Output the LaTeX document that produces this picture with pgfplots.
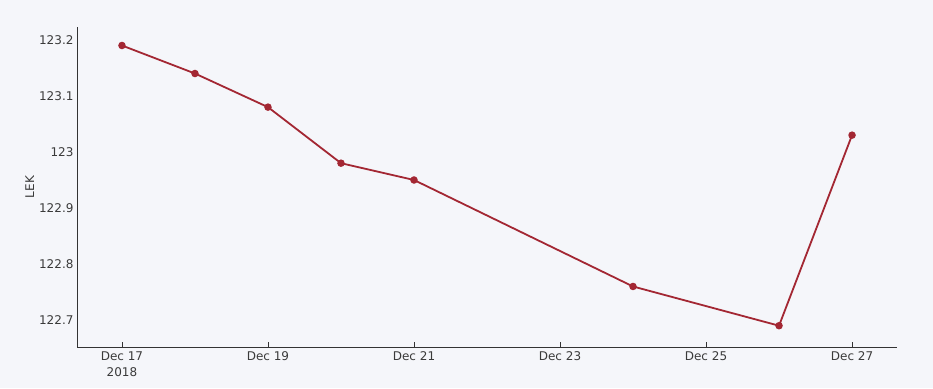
\documentclass[border=0pt]{standalone}
\usepackage{pgfplots}
\pgfplotsset{compat=1.18}
\usepackage{fontspec}
\setmainfont{DejaVu Sans}
\definecolor{bgc}{HTML}{F5F6FA}
\definecolor{linec}{HTML}{A32733}
\definecolor{axc}{HTML}{333333}
\definecolor{txc}{HTML}{3A3A3A}
\begin{document}
\begin{tikzpicture}[x=1pt,y=1pt]
\fill[bgc] (0,0) rectangle (933,388);
\useasboundingbox (0,0) rectangle (933,388);
\begin{axis}[
  at={(77pt,41pt)}, anchor=south west,
  scale only axis, width=820pt, height=320pt,
  xmin=-0.616, xmax=10.616, ymin=122.652, ymax=123.223,
  axis lines*=left,
  axis line style={axc, line width=0.9pt},
  xtick={0,2,4,6,8,10},
  xticklabels={{Dec 17\\2018},Dec 19,Dec 21,Dec 23,Dec 25,Dec 27},
  xticklabel style={align=center, text=txc, font=\fontsize{12}{16}\selectfont, yshift=-1.5pt},
  ytick={122.7,122.8,122.9,123,123.1,123.2},
  yticklabels={122.7,122.8,122.9,123,123.1,123.2},
  yticklabel style={text=txc, font=\fontsize{12}{14}\selectfont},
  major tick length=5pt,
  xtick style={axc, line width=0.8pt},
  ytick style={draw=none},
  tick align=inside,
  ylabel={LEK},
  ylabel style={text=txc, font=\fontsize{12}{14}\selectfont, yshift=-2pt},
  clip=false,
]
\addplot[color=linec, line width=1.8pt, mark=*, mark size=2.8pt, mark options={fill=linec, draw=none}]
coordinates {(0,123.19) (1,123.14) (2,123.08) (3,122.98) (4,122.95) (7,122.76) (9,122.69) (10,123.03)};
\end{axis}
\end{tikzpicture}
\end{document}
